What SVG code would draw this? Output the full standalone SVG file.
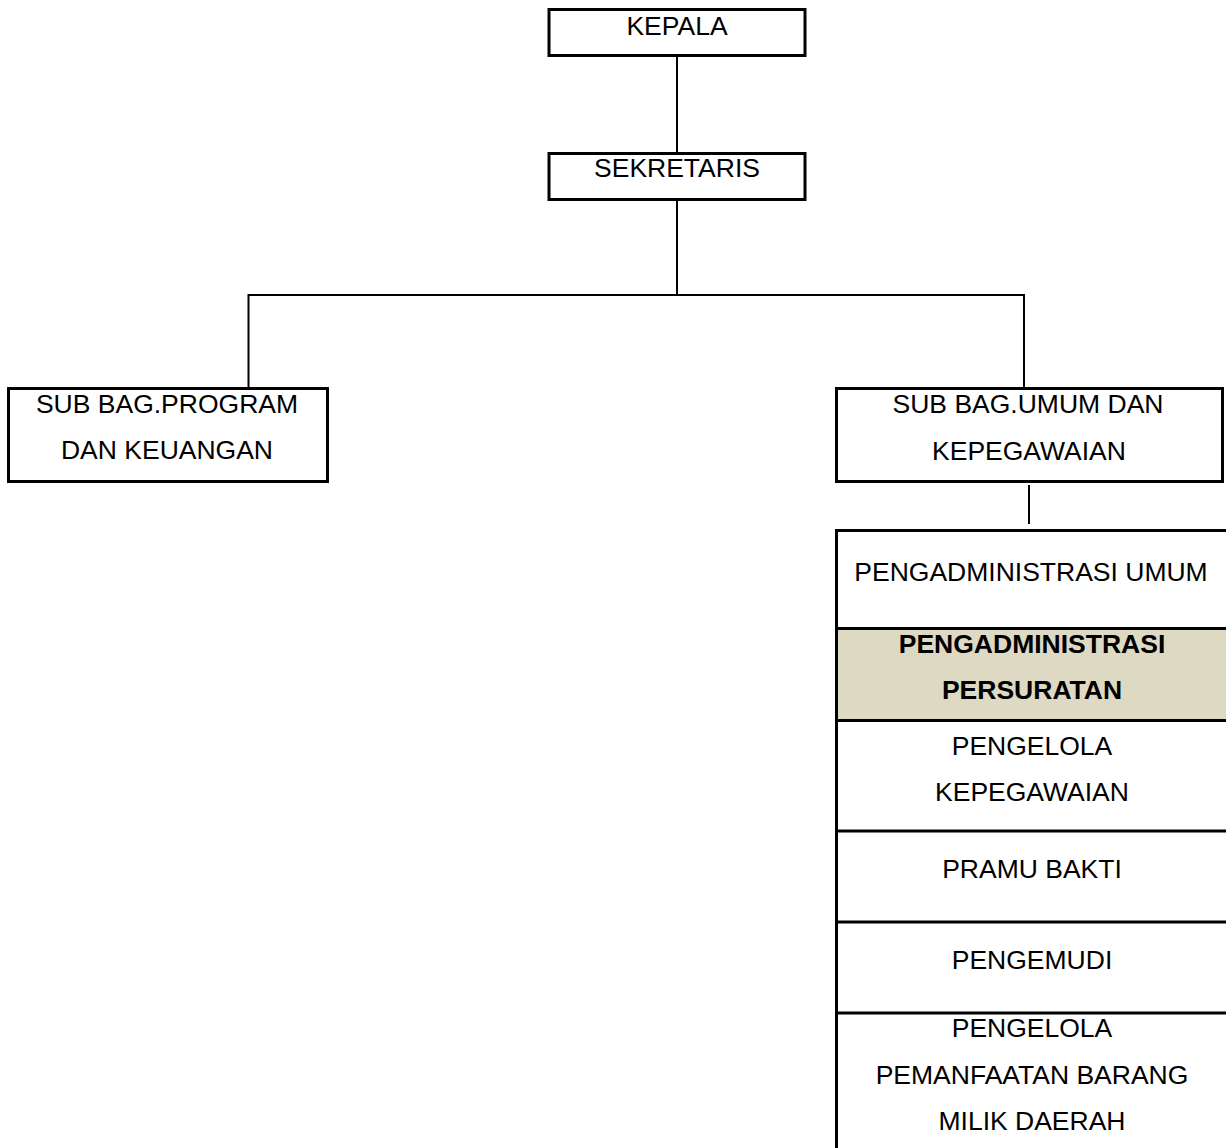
<svg xmlns="http://www.w3.org/2000/svg" width="1226" height="1148" viewBox="0 0 1226 1148">
<style>
.box{fill:#fff;stroke:#000;stroke-width:3}
.ln{stroke:#000;stroke-width:2;fill:none}
.th{stroke:#000;stroke-width:3;fill:none}
.t{font-family:"Liberation Sans",Arial,sans-serif;font-size:26.5px;text-anchor:middle;fill:#000}
.b{font-weight:bold}
</style>
<rect width="1226" height="1148" fill="#fff"/>
<g id="connectors">
<line class="ln" x1="677" y1="56" x2="677" y2="153"/>
<polyline class="ln" points="677,200 677,295"/>
<polyline class="ln" points="248.5,388 248.5,295 1024,295 1024,388"/>
<line class="ln" x1="1029" y1="485" x2="1029" y2="524"/>
</g>
<g id="kepala">
<rect class="box" x="549" y="9.5" width="256" height="46"/>
<text class="t" x="677" y="35">KEPALA</text>
</g>
<g id="sekretaris">
<rect class="box" x="549" y="153.5" width="256" height="46"/>
<text class="t" x="677" y="177">SEKRETARIS</text>
</g>
<g id="subbag-program">
<rect class="box" x="8.5" y="388.5" width="319" height="93"/>
<text class="t" x="167" y="413">SUB BAG.PROGRAM</text>
<text class="t" x="167" y="459">DAN KEUANGAN</text>
</g>
<g id="subbag-umum">
<rect class="box" x="836.5" y="388.5" width="386" height="93"/>
<text class="t" x="1028" y="413">SUB BAG.UMUM DAN</text>
<text class="t" x="1029" y="460">KEPEGAWAIAN</text>
</g>
<g id="staff-column">
<rect x="836" y="628" width="390" height="92" fill="#ddd9c3"/>
<line class="th" x1="836.5" y1="530" x2="836.5" y2="1148"/>
<line class="th" x1="835" y1="530.5" x2="1226" y2="530.5"/>
<line class="th" x1="835" y1="628.5" x2="1226" y2="628.5"/>
<line class="th" x1="835" y1="720.5" x2="1226" y2="720.5"/>
<line class="th" x1="835" y1="831" x2="1226" y2="831"/>
<line class="th" x1="835" y1="922" x2="1226" y2="922"/>
<line class="th" x1="835" y1="1013" x2="1226" y2="1013"/>
</g>
<g id="pengadministrasi-umum"><text class="t" x="1031" y="581">PENGADMINISTRASI UMUM</text></g>
<g id="pengadministrasi-persuratan">
<text class="t b" x="1032" y="653">PENGADMINISTRASI</text>
<text class="t b" x="1032" y="699">PERSURATAN</text>
</g>
<g id="pengelola-kepegawaian">
<text class="t" x="1032" y="755">PENGELOLA</text>
<text class="t" x="1032" y="801">KEPEGAWAIAN</text>
</g>
<g id="pramu-bakti"><text class="t" x="1032" y="878">PRAMU BAKTI</text></g>
<g id="pengemudi"><text class="t" x="1032" y="969">PENGEMUDI</text></g>
<g id="pengelola-bmd">
<text class="t" x="1032" y="1037">PENGELOLA</text>
<text class="t" x="1032" y="1084">PEMANFAATAN BARANG</text>
<text class="t" x="1032" y="1130">MILIK DAERAH</text>
</g>
</svg>
